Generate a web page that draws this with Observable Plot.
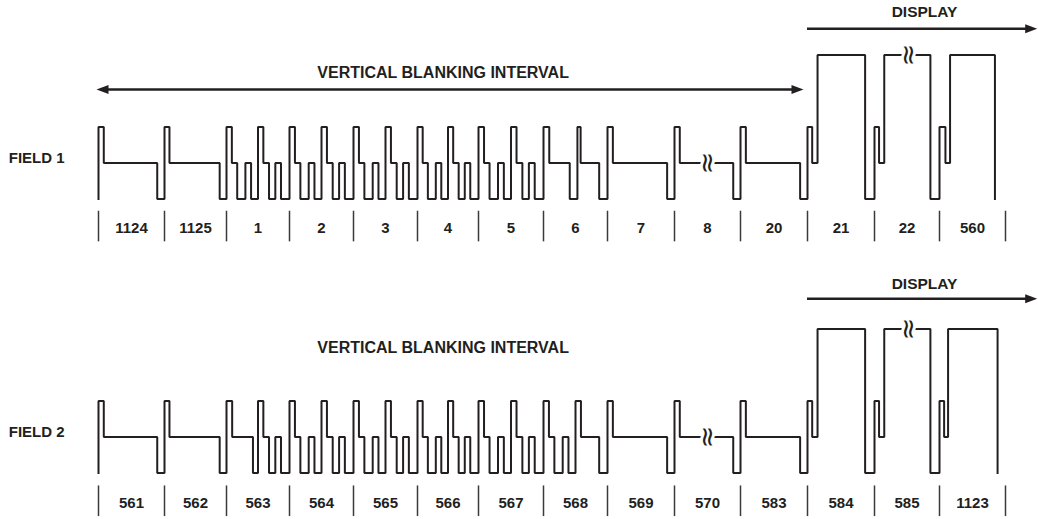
<!DOCTYPE html>
<html>
<head>
<meta charset="utf-8">
<script src="https://cdn.jsdelivr.net/npm/d3@7"></script>
<script src="https://cdn.jsdelivr.net/npm/@observablehq/plot@0.6"></script>
<style>
  html, body { margin: 0; padding: 0; background: #ffffff; }
  #chart svg { display: block; }
</style>
</head>
<body>
<div id="chart"></div>
<script>
// ---------------- DATA ----------------
// Signal levels: B = sync bottom, M = blanking, T = sync top, H = active video (white)
const levelNames = ["B", "M", "T", "H"];
const levelValues = [-1, 0, 1, 3];

// Line shapes: [fraction of the line where the level starts, level]
const broadLine          = [[0, "T"], [0.08, "M"], [0.89, "B"]];
const serrationLine      = [[0, "T"], [0.085, "M"], [0.17, "B"], [0.3, "M"], [0.39, "B"],
                            [0.5, "T"], [0.585, "M"], [0.675, "B"], [0.775, "M"], [0.865, "B"]];
const broadThenSerration = [[0, "T"], [0.09, "M"], [0.42, "B"],
                            [0.5, "T"], [0.585, "M"], [0.675, "B"], [0.775, "M"], [0.865, "B"]];
const serrationThenBroad = [[0, "T"], [0.085, "M"], [0.17, "B"], [0.3, "M"], [0.39, "B"],
                            [0.5, "T"], [0.585, "M"], [0.87, "B"]];
const twoBroadHalves     = [[0, "T"], [0.09, "M"], [0.41, "B"], [0.53, "T"], [0.58, "M"], [0.87, "B"]];
const activeLine         = [[0, "T"], [0.07, "M"], [0.15, "H"], [0.86, "B"]];
const lastActiveField1   = [[0, "T"], [0.09, "M"], [0.16, "H"], [0.84, "B"]];
const lastActiveField2   = [[0, "T"], [0.07, "M"], [0.13, "H"], [0.88, "B"]];

const field1Labels = ["1124", "1125", "1", "2", "3", "4", "5", "6", "7", "8", "20", "21", "22", "560"];
const field1Shapes = [broadLine, broadLine, serrationLine, serrationLine, serrationLine, serrationLine,
                      serrationLine, twoBroadHalves, broadLine, broadLine, broadLine,
                      activeLine, activeLine, lastActiveField1];

const field2Labels = ["561", "562", "563", "564", "565", "566", "567", "568", "569", "570", "583", "584", "585", "1123"];
const field2Shapes = [broadLine, broadLine, broadThenSerration, serrationLine, serrationLine, serrationLine,
                      serrationLine, serrationThenBroad, broadLine, broadLine, broadLine,
                      activeLine, activeLine, lastActiveField2];

// Break marks: [line index, fraction, level]
const breakMarks = [[9, 0.5, "M"], [12, 0.53, "H"]];

const fieldNames = ["FIELD 1", "FIELD 2"];
const vbiText = "VERTICAL BLANKING INTERVAL";
const displayText = "DISPLAY";

// ---------------- LAYOUT ----------------
const W = 1038;
const ink = "#231f20";
const font = "'Liberation Sans', Arial, Helvetica, sans-serif";
const linePx = [98, 164, 226, 289, 353, 417, 478, 543, 607, 674, 740, 807, 874, 939, 1005];

const headRight = {draw(ctx) { ctx.moveTo(0, 0); ctx.lineTo(-12, -4.5); ctx.lineTo(-12, 4.5); ctx.closePath(); }};
const headLeft  = {draw(ctx) { ctx.moveTo(0, 0); ctx.lineTo(12, -4.5); ctx.lineTo(12, 4.5); ctx.closePath(); }};

const lv = (name) => levelValues[levelNames.indexOf(name)];

function waveform(shapes) {
  const pts = [{x: 0, y: lv("B")}];
  let prev = "B";
  shapes.forEach((shape, i) => {
    for (const [f, l] of shape) {
      pts.push({x: i + f, y: lv(prev)});
      pts.push({x: i + f, y: lv(l)});
      prev = l;
    }
  });
  return pts;
}

function fieldPlot(name, labels, shapes, height, rows) {
  const wave = waveform(shapes);
  const edges = d3.range(labels.length + 1);
  const marks = [
    Plot.line(wave, {x: "x", y: "y", stroke: ink, strokeWidth: 2, strokeLinejoin: "miter", strokeLinecap: "square"}),
    Plot.text(breakMarks, {x: d => d[0] + d[1], y: d => lv(d[2]), text: () => "\u2248", rotate: 90,
      fontSize: 27, fontFamily: "'DejaVu Sans', sans-serif", fill: ink, stroke: "white", strokeWidth: 6,
      paintOrder: "stroke", textAnchor: "middle", lineAnchor: "middle"}),
    Plot.ruleX(edges, {x: d => d, y1: rows.tickTop, y2: rows.tickBottom, stroke: "#3a3a3a", strokeWidth: 1.5}),
    Plot.text(labels, {x: (d, i) => i + 0.5, y: rows.label, text: d => d, fontSize: 15, fontWeight: "bold",
      fontFamily: font, fill: ink, lineAnchor: "middle"}),
    Plot.text([name], {x: -1.36, y: 0.12, text: d => d, textAnchor: "start", fontSize: 15, fontWeight: "bold",
      fontFamily: font, fill: ink, lineAnchor: "middle"}),
    Plot.text([vbiText], {x: 5.42, y: rows.vbiText, text: d => d, fontSize: 16, fontWeight: "bold",
      fontFamily: font, fill: ink, lineAnchor: "middle"}),
    Plot.text([displayText], {x: 12.77, y: rows.displayText, text: d => d, fontSize: 15.5, fontWeight: "bold",
      fontFamily: font, fill: ink, lineAnchor: "middle"}),
    Plot.ruleY([rows.displayArrow], {y: d => d, x1: 11, x2: 14.35, stroke: ink, strokeWidth: 2.5}),
    Plot.dot([rows.displayArrow], {x: 14.48, y: d => d, symbol: headRight, fill: ink, stroke: "none"})
  ];
  if (rows.vbiArrow != null) {
    marks.push(
      Plot.ruleY([rows.vbiArrow], {y: d => d, x1: 0.1, x2: 10.8, stroke: ink, strokeWidth: 2.5}),
      Plot.dot([rows.vbiArrow], {x: -0.03, y: d => d, symbol: headLeft, fill: ink, stroke: "none"}),
      Plot.dot([rows.vbiArrow], {x: 10.94, y: d => d, symbol: headRight, fill: ink, stroke: "none"})
    );
  }
  return Plot.plot({
    width: W,
    height,
    margin: 0,
    style: {fontFamily: font, background: "white", overflow: "visible"},
    x: {type: "linear", domain: edges, range: linePx, axis: null},
    y: {type: "linear", domain: [-1, 3], range: [198.5, 54.5], axis: null},
    marks
  });
}

const chart = document.getElementById("chart");
chart.appendChild(fieldPlot(fieldNames[0], field1Labels, field1Shapes, 274, {
  tickTop: -1.34, tickBottom: -2.19, label: -1.81,
  vbiText: 2.5, vbiArrow: 2.04, displayText: 4.19, displayArrow: 3.73
}));
chart.appendChild(fieldPlot(fieldNames[1], field2Labels, field2Shapes, 245, {
  tickTop: -1.36, tickBottom: -2.21, label: -1.83,
  vbiText: 2.48, vbiArrow: null, displayText: 4.24, displayArrow: 3.84
}));
</script>
</body>
</html>
